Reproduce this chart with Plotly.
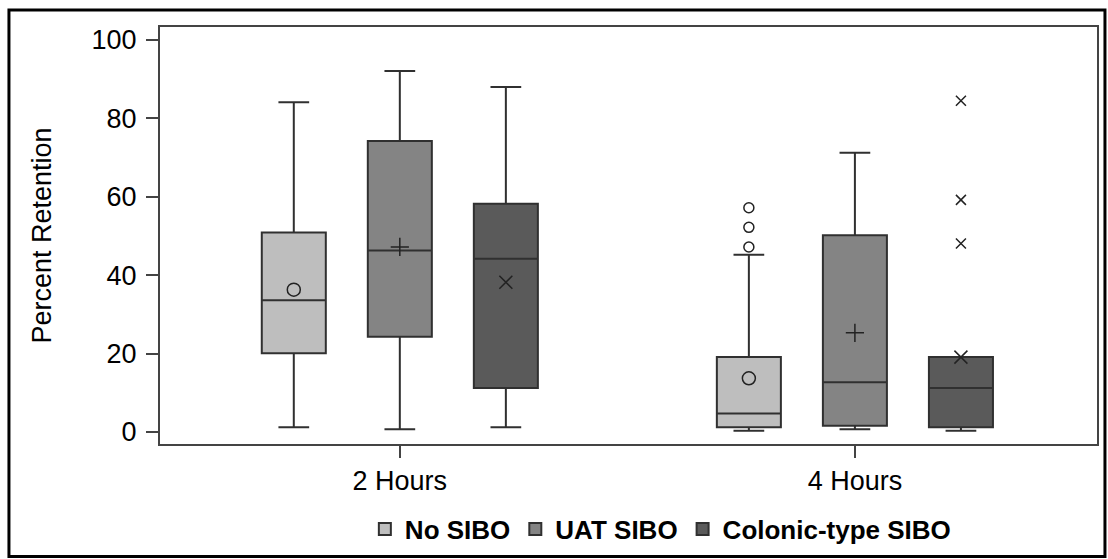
import plotly.graph_objects as go

# ---- data ----
categories = ["2 Hours", "4 Hours"]
groups = ["No SIBO", "UAT SIBO", "Colonic-type SIBO"]

q1 = {"No SIBO": [20.1, 1.2], "UAT SIBO": [24.3, 1.6], "Colonic-type SIBO": [11.2, 1.2]}
median = {"No SIBO": [33.6, 4.7], "UAT SIBO": [46.3, 12.7], "Colonic-type SIBO": [44.2, 11.2]}
q3 = {"No SIBO": [50.9, 19.1], "UAT SIBO": [74.2, 50.2], "Colonic-type SIBO": [58.2, 19.1]}
lowerfence = {"No SIBO": [1.2, 0.3], "UAT SIBO": [0.7, 0.7], "Colonic-type SIBO": [1.2, 0.3]}
upperfence = {"No SIBO": [84.1, 45.2], "UAT SIBO": [92.1, 71.2], "Colonic-type SIBO": [88.0, 19.1]}
means = {"No SIBO": [36.3, 13.7], "UAT SIBO": [47.2, 25.3], "Colonic-type SIBO": [38.2, 19.1]}

# outliers: (category index, value)
outliers = {
    "No SIBO": [(1, 57.2), (1, 52.2), (1, 47.2)],
    "UAT SIBO": [],
    "Colonic-type SIBO": [(1, 84.5), (1, 59.2), (1, 48.1)],
}

# ---- styles ----
fills = {"No SIBO": "#BEBEBE", "UAT SIBO": "#848484", "Colonic-type SIBO": "#5A5A5A"}
mean_symbols = {"No SIBO": "circle-open", "UAT SIBO": "cross-thin", "Colonic-type SIBO": "x-thin"}
edge = "#303030"
FONT = "Liberation Sans, Arial, Helvetica, sans-serif"

group_step = 0.233   # offset between series inside a category (axis units)
box_w = 0.1407

fig = go.Figure()
for j, g in enumerate(groups):
    off = (j - 1) * group_step
    xs = [i + off for i in range(len(categories))]
    fig.add_trace(go.Box(
        name=g, x=xs,
        q1=q1[g], median=median[g], q3=q3[g],
        lowerfence=lowerfence[g], upperfence=upperfence[g],
        width=box_w, whiskerwidth=0.48,
        fillcolor=fills[g], line=dict(color=edge, width=2),
        boxpoints=False, hoverinfo="skip",
    ))
    # mean markers
    fig.add_trace(go.Scatter(
        x=xs, y=means[g], mode="markers", showlegend=False, hoverinfo="skip",
        marker=dict(symbol=mean_symbols[g], size=13, color="#222222",
                    line=dict(color="#222222", width=1.5)),
    ))
    if outliers[g]:
        ox = [ci + off for ci, _ in outliers[g]]
        oy = [v for _, v in outliers[g]]
        fig.add_trace(go.Scatter(
            x=ox, y=oy, mode="markers", showlegend=False, hoverinfo="skip",
            marker=dict(symbol=mean_symbols[g], size=10, color="#222222",
                        line=dict(color="#222222", width=1.5)),
        ))

fig.update_layout(
    width=1108, height=559,
    margin=dict(l=160, r=11, t=27, b=115, autoexpand=False),
    paper_bgcolor="white", plot_bgcolor="white",
    font=dict(family=FONT, size=27, color="black"),
    showlegend=True,
    legend=dict(orientation="h", x=0.534, xanchor="center", y=-0.204, yanchor="middle",
                font=dict(family=FONT, size=26, color="black", weight="bold"),
                itemwidth=30, tracegroupgap=0, bgcolor="rgba(0,0,0,0)"),
    xaxis=dict(range=[-0.527, 1.532], tickmode="array", automargin=False,
               tickvals=list(range(len(categories))), ticktext=categories,
               showgrid=False, zeroline=False, showline=True, mirror=True,
               linecolor="#444444", linewidth=2, ticks="outside", ticklen=12,
               tickcolor="#444444", tickwidth=2),
    yaxis=dict(range=[-3.06, 103.3], tickmode="array", tickvals=[0, 20, 40, 60, 80, 100],
               automargin=False, ticklabelstandoff=4,
               showgrid=False, zeroline=False, showline=True, mirror=True,
               linecolor="#444444", linewidth=2, ticks="outside", ticklen=12,
               tickcolor="#444444", tickwidth=2,
               title=dict(text="Percent Retention", font=dict(size=27), standoff=32)),
    shapes=[dict(type="rect", xref="paper", yref="paper",
                 x0=-0.1612, x1=1.0085, y0=-0.270, y1=1.0408,
                 line=dict(color="black", width=3), fillcolor="rgba(0,0,0,0)", layer="above")],
)

fig.write_html("out.html", config={"displayModeBar": False},
               post_script="document.body.style.margin='0';")
